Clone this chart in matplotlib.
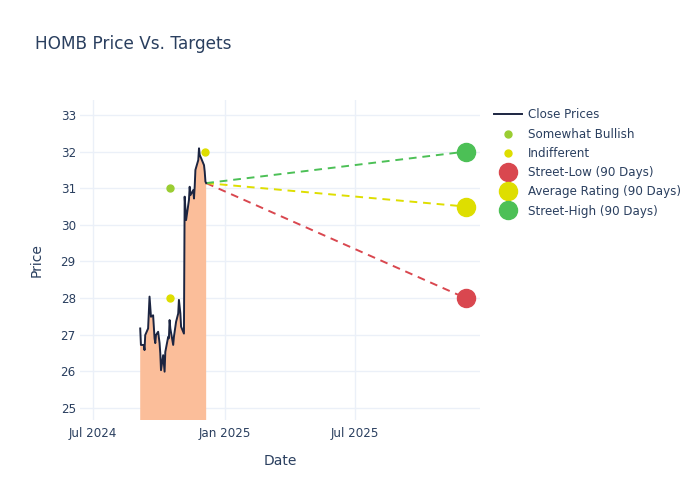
import matplotlib
matplotlib.use("Agg")
import matplotlib.pyplot as plt
import matplotlib.dates as mdates
import numpy as np
import pandas as pd

# close prices
close_dates = [
    "2024-09-05", "2024-09-06", "2024-09-10", "2024-09-11", "2024-09-12", "2024-09-16",
    "2024-09-18", "2024-09-20", "2024-09-23", "2024-09-25", "2024-09-26", "2024-09-27",
    "2024-09-30", "2024-10-02", "2024-10-03", "2024-10-04", "2024-10-07", "2024-10-09",
    "2024-10-10", "2024-10-14", "2024-10-15", "2024-10-16", "2024-10-17", "2024-10-21",
    "2024-10-22", "2024-10-25", "2024-10-28", "2024-10-29", "2024-10-31", "2024-11-01",
    "2024-11-05", "2024-11-06", "2024-11-08", "2024-11-12", "2024-11-13", "2024-11-14",
    "2024-11-18", "2024-11-19", "2024-11-20", "2024-11-21", "2024-11-25", "2024-11-26",
    "2024-11-27", "2024-11-29", "2024-12-03", "2024-12-04", "2024-12-05", "2024-12-06",
]
close_prices = [
    27.17, 26.72, 26.72, 26.58, 26.99, 27.17,
    28.04, 27.49, 27.53, 26.90, 26.77, 26.99,
    27.08, 26.77, 26.49, 26.03, 26.44, 25.99,
    26.53, 26.94, 26.90, 27.40, 27.17, 26.72,
    26.94, 27.35, 27.58, 27.95, 27.58, 27.22,
    27.03, 30.77, 30.13, 30.68, 31.04, 30.81,
    30.95, 30.72, 31.04, 31.50, 31.77, 32.09,
    31.91, 31.82, 31.63, 31.45, 31.18, 31.14,
]

bullish_dates = ["2024-10-17"]
bullish_targets = [31.0]
indifferent_dates = ["2024-10-17", "2024-12-04"]
indifferent_targets = [28.0, 32.0]

target_date = "2025-12-03"
street_low = 28.0
average_rating = 30.5
street_high = 32.0

TEXT = "#2a3f5f"
GRID = "#ebf0f8"

plt.rcParams["font.family"] = ["DejaVu Sans"]

dates = pd.to_datetime(close_dates)
closes = np.array(close_prices)
tdate = pd.Timestamp(target_date)
last_date, last_close = dates[-1], closes[-1]

fig = plt.figure(figsize=(7, 5), dpi=100)
ax = fig.add_axes([80 / 700, 80 / 500, 400 / 700, 320 / 500])

ax.fill_between(dates, 0, closes, color="#fbbe9a", linewidth=0, zorder=1)
ax.plot(dates, closes, color="#1c2541", linewidth=1.4, zorder=3, label="Close Prices")

ax.plot(pd.to_datetime(bullish_dates), bullish_targets, "o", color="#9acd32",
        markersize=5, linestyle="none", zorder=4, label="Somewhat Bullish")
ax.plot(pd.to_datetime(indifferent_dates), indifferent_targets, "o", color="#dede00",
        markersize=5, linestyle="none", zorder=4, label="Indifferent")

for val, col, lab in [(street_low, "#d9474f", "Street-Low (90 Days)"),
                      (average_rating, "#dede00", "Average Rating (90 Days)"),
                      (street_high, "#4cc056", "Street-High (90 Days)")]:
    ax.plot([last_date, tdate], [last_close, val], linestyle=(0, (4, 3)),
            color=col, linewidth=1.4, zorder=2)
    ax.plot([tdate], [val], "o", color=col, markersize=13, linestyle="none",
            zorder=5, label=lab)

ax.set_xlim(pd.Timestamp("2024-06-13"), pd.Timestamp("2025-12-23"))
ax.set_ylim(24.67, 33.41)
ax.set_yticks(range(25, 34))
ax.xaxis.set_major_locator(mdates.MonthLocator(bymonth=[1, 7]))
ax.xaxis.set_major_formatter(mdates.DateFormatter("%b %Y"))

ax.grid(True, color=GRID, linewidth=1)
ax.set_axisbelow(True)
for s in ax.spines.values():
    s.set_visible(False)
ax.tick_params(length=0, labelsize=8.6, labelcolor=TEXT)
ax.tick_params(axis="y", pad=3)
ax.tick_params(axis="x", pad=5)
ax.set_xlabel("Date", fontsize=10, color=TEXT, labelpad=10)
ax.set_ylabel("Price", fontsize=10, color=TEXT, labelpad=12)

fig.text(35 / 700, 1 - 44 / 500, "HOMB Price Vs. Targets", fontsize=12.2,
         color=TEXT, va="center", ha="left")

leg = fig.legend(loc="upper left", bbox_to_anchor=(494 / 700, 1 - 108.5 / 500),
                 frameon=False, fontsize=8.6, labelspacing=0.52, handlelength=2.35,
                 handletextpad=0.5, borderpad=0, borderaxespad=0)
for t in leg.get_texts():
    t.set_color(TEXT)

fig.savefig("out.png", dpi=100)
